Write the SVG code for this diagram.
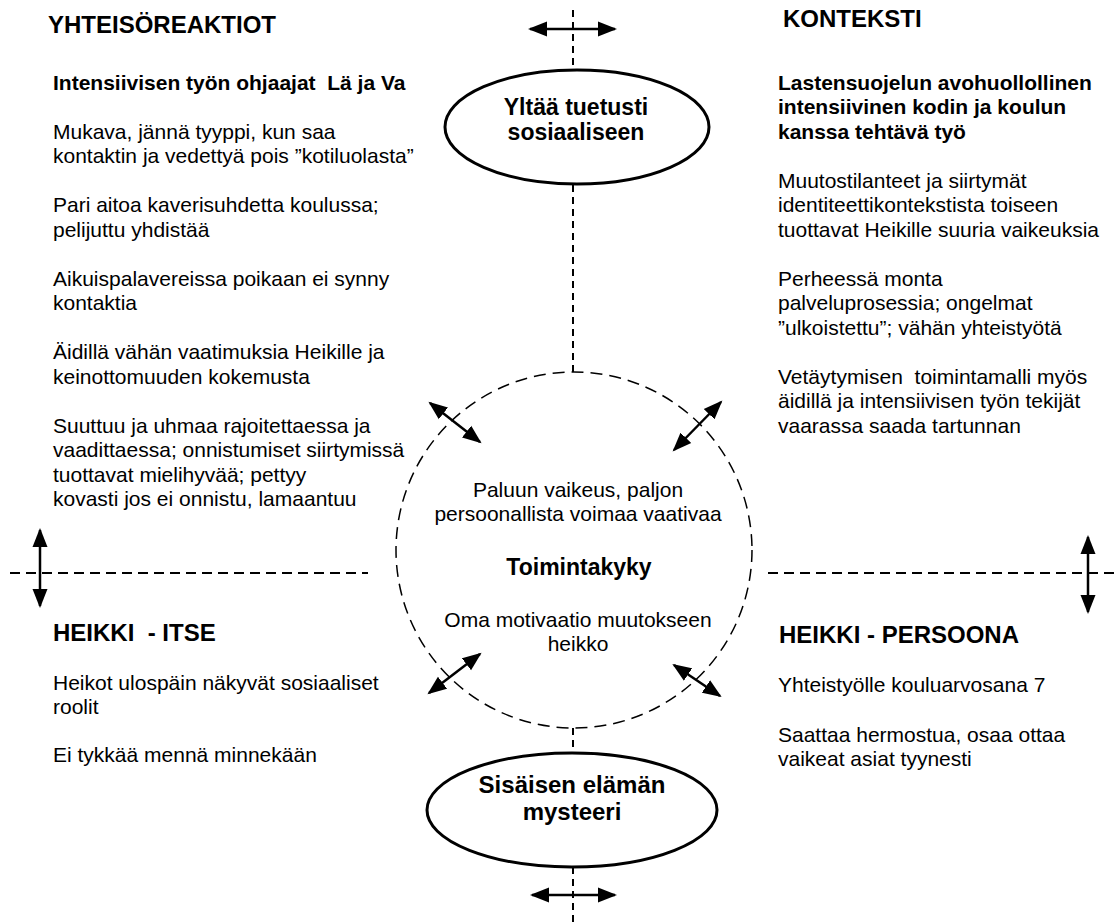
<svg xmlns="http://www.w3.org/2000/svg" width="1119" height="922" viewBox="0 0 1119 922">
<style>
text{font-family:"Liberation Sans",Arial,sans-serif;fill:#000;white-space:pre}
.h{font-size:24px;font-weight:bold}
.b{font-size:21px}
.bb{font-size:21px;font-weight:bold}
.c{text-anchor:middle}
.dash{stroke:#000;stroke-width:2;stroke-dasharray:10 6;fill:none}
.vdash{stroke:#000;stroke-width:2;stroke-dasharray:7 5;fill:none}
.arr{stroke:#000;stroke-width:2.5;fill:none;marker-start:url(#ah);marker-end:url(#ah)}
.ell{fill:#fff;stroke:#000;stroke-width:3}
</style>
<defs>
<marker id="ah" markerUnits="userSpaceOnUse" markerWidth="20" markerHeight="16" refX="17" refY="7.5" orient="auto-start-reverse" viewBox="0 0 20 15">
<path d="M0,0 L19,7.5 L0,15 z" fill="#000"/>
</marker>
</defs>
<rect width="1119" height="922" fill="#fff"/>
<g id="connectors">
<line class="vdash" x1="573" y1="10" x2="573" y2="70"/>
<line class="vdash" x1="573" y1="185" x2="573" y2="372"/>
<line class="vdash" x1="573" y1="728" x2="573" y2="753"/>
<line class="vdash" x1="573" y1="867" x2="573" y2="922"/>
<line class="dash" x1="10" y1="573" x2="368" y2="573"/>
<line class="dash" x1="768" y1="573" x2="1119" y2="573"/>
<line class="arr" x1="530" y1="29" x2="615" y2="29"/>
<line class="arr" x1="532" y1="895" x2="615" y2="895"/>
<line class="arr" x1="40" y1="530" x2="40" y2="606"/>
<line class="arr" x1="1088" y1="537" x2="1088" y2="612"/>
<line class="arr" x1="430" y1="403" x2="480" y2="442"/>
<line class="arr" x1="721" y1="402" x2="674" y2="450"/>
<line class="arr" x1="429" y1="693" x2="480" y2="654"/>
<line class="arr" x1="674" y1="665" x2="720" y2="696"/>
</g>
<g id="node-top">
<ellipse class="ell" cx="577" cy="127" rx="132" ry="57"/>
<text class="c" x="576" y="115" style="font-size:23px;font-weight:bold">Yltää tuetusti</text>
<text class="c" x="576" y="140" style="font-size:23px;font-weight:bold">sosiaaliseen</text>
</g>
<g id="node-bottom">
<ellipse class="ell" cx="572" cy="810" rx="145" ry="57"/>
<text class="c" x="572" y="793" style="font-size:24px;font-weight:bold">Sisäisen elämän</text>
<text class="c" x="572" y="820" style="font-size:24px;font-weight:bold">mysteeri</text>
</g>
<g id="node-center">
<circle cx="574" cy="550" r="178" fill="none" stroke="#000" stroke-width="1.5" stroke-dasharray="12 7"/>
<text class="b c" x="578" y="497">Paluun vaikeus, paljon</text>
<text class="b c" x="578" y="521">persoonallista voimaa vaativaa</text>
<text class="c" x="579" y="575" style="font-size:23px;font-weight:bold">Toimintakyky</text>
<text class="b c" x="578" y="627">Oma motivaatio muutokseen</text>
<text class="b c" x="578" y="651">heikko</text>
</g>
<g id="node-yhteisoreaktiot">
<text class="h" x="48" y="33">YHTEISÖREAKTIOT</text>
<text class="bb" x="53" y="90">Intensiivisen työn ohjaajat  Lä ja Va</text>
<text class="b" x="53" y="138.5">Mukava, jännä tyyppi, kun saa</text>
<text class="b" x="53" y="163">kontaktin ja vedettyä pois ”kotiluolasta”</text>
<text class="b" x="53" y="212">Pari aitoa kaverisuhdetta koulussa;</text>
<text class="b" x="53" y="236.5">pelijuttu yhdistää</text>
<text class="b" x="53" y="285.5">Aikuispalavereissa poikaan ei synny</text>
<text class="b" x="53" y="310">kontaktia</text>
<text class="b" x="53" y="359">Äidillä vähän vaatimuksia Heikille ja</text>
<text class="b" x="53" y="383.5">keinottomuuden kokemusta</text>
<text class="b" x="53" y="432.5">Suuttuu ja uhmaa rajoitettaessa ja</text>
<text class="b" x="53" y="457">vaadittaessa; onnistumiset siirtymissä</text>
<text class="b" x="53" y="481.5">tuottavat mielihyvää; pettyy</text>
<text class="b" x="53" y="506">kovasti jos ei onnistu, lamaantuu</text>
</g>
<g id="node-konteksti">
<text class="h" x="783" y="27">KONTEKSTI</text>
<text class="bb" x="778" y="89.5">Lastensuojelun avohuollollinen</text>
<text class="bb" x="778" y="114">intensiivinen kodin ja koulun</text>
<text class="bb" x="778" y="138.5">kanssa tehtävä työ</text>
<text class="b" x="778" y="187.5">Muutostilanteet ja siirtymät</text>
<text class="b" x="778" y="212">identiteettikontekstista toiseen</text>
<text class="b" x="778" y="236.5">tuottavat Heikille suuria vaikeuksia</text>
<text class="b" x="778" y="285.5">Perheessä monta</text>
<text class="b" x="778" y="310">palveluprosessia; ongelmat</text>
<text class="b" x="778" y="334.5">”ulkoistettu”; vähän yhteistyötä</text>
<text class="b" x="778" y="383.5">Vetäytymisen  toimintamalli myös</text>
<text class="b" x="778" y="408">äidillä ja intensiivisen työn tekijät</text>
<text class="b" x="778" y="432.5">vaarassa saada tartunnan</text>
</g>
<g id="node-heikki-itse">
<text class="h" x="53" y="641">HEIKKI  - ITSE</text>
<text class="b" x="53" y="690">Heikot ulospäin näkyvät sosiaaliset</text>
<text class="b" x="53" y="714">roolit</text>
<text class="b" x="53" y="762">Ei tykkää mennä minnekään</text>
</g>
<g id="node-heikki-persoona">
<text class="h" x="779" y="643">HEIKKI - PERSOONA</text>
<text class="b" x="778" y="692">Yhteistyölle kouluarvosana 7</text>
<text class="b" x="778" y="742">Saattaa hermostua, osaa ottaa</text>
<text class="b" x="778" y="766">vaikeat asiat tyynesti</text>
</g>
</svg>
